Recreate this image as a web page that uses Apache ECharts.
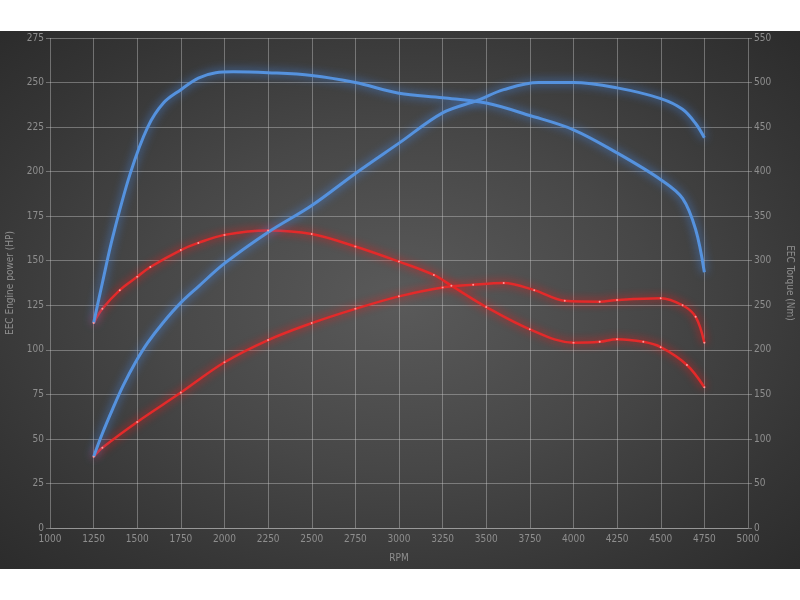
<!DOCTYPE html>
<html>
<head>
<meta charset="utf-8">
<script src="https://cdn.jsdelivr.net/npm/echarts@6/dist/echarts.min.js"></script>
<style>
html,body{margin:0;padding:0;background:#fff;}
#wrap{position:relative;width:800px;height:600px;}
#bg{position:absolute;left:0;top:31px;width:800px;height:538px;
background:radial-gradient(ellipse 70% 70% at 50% 50%, #5a5a5a 0%, #474747 45%, #353535 80%, #2c2c2c 100%);}
#chart{position:absolute;left:0;top:0;width:800px;height:600px;}
</style>
</head>
<body>
<div id="wrap"><div id="bg"></div><div id="chart"></div></div>
<script>
// X axis ticks (RPM)
const rpmTicks = [1000,1250,1500,1750,2000,2250,2500,2750,3000,3250,3500,3750,4000,4250,4500,4750,5000];

// Tuned torque (Nm, right axis) - blue
const tunedTorqueRpm = [1250,1300,1360,1460,1560,1650,1750,1850,1950,2050,2250,2500,2750,3000,3250,3500,3750,4000,4250,4500,4625,4700,4750];
const tunedTorqueNm  = [230,275,327,398,450,477,492,505,511,512,511,508,500,488,483,477,463,447,421,391,370,335,287];

// Tuned power (HP, left axis) - blue
const tunedPowerRpm = [1250,1300,1360,1420,1490,1560,1650,1750,1850,2000,2250,2500,2750,3000,3250,3450,3600,3800,4000,4250,4500,4625,4700,4750];
const tunedPowerHp  = [40,53,67,80,93,104,115.5,126.5,135.5,148.5,166,181,199,216,233,240,246,250,250,247,241,235,227,219];

// Stock torque (Nm, right axis) - red
const stockTorqueRpm = [1250,1300,1400,1500,1575,1750,1850,2000,2250,2500,2750,3000,3200,3300,3500,3750,4000,4150,4250,4400,4500,4650,4750];
const stockTorqueNm  = [230,246,267,282,293,312,320,329,334,330,316,299,284,272,248,223,208,209,212,209,203,183,158];

// Stock power (HP, left axis) - red
const stockPowerRpm = [1250,1300,1500,1750,2000,2250,2500,2750,3000,3250,3425,3600,3775,3950,4150,4250,4500,4625,4700,4750];
const stockPowerHp  = [40,45,59.5,76,93,105.5,115,123,130,135,136.5,137.5,133.5,127.5,127,128,129,125,118.5,104];

const pairs = (xs, ys) => xs.map((x, i) => [x, ys[i]]);

const gridColor = 'rgba(200,200,200,0.42)';
const labelColor = '#8e8e8e';
const fontFam = "'Liberation Sans Narrow','DejaVu Sans Condensed','Liberation Sans',sans-serif";
const plain = v => String(v);

const blueLine = {
  type: 'line', smooth: 0.35, showSymbol: false, symbol: 'none',
  lineStyle: { color: '#5592de', width: 3, shadowColor: 'rgba(70,140,240,0.95)', shadowBlur: 10 },
  itemStyle: { color: '#5592de' }
};
const redLine = {
  type: 'line', smooth: 0.35, showSymbol: true, symbol: 'circle', symbolSize: 2,
  lineStyle: { color: '#e32a2a', width: 2.5, shadowColor: 'rgba(255,20,20,0.95)', shadowBlur: 8 },
  itemStyle: { color: '#ff9a9a' }
};

const chart = echarts.init(document.getElementById('chart'), null, { renderer: 'canvas' });
chart.setOption({
  backgroundColor: 'transparent',
  animation: false,
  grid: { left: 50, right: 52, top: 38, bottom: 72, containLabel: false, outerBoundsMode: 'none' },
  xAxis: {
    type: 'value', min: rpmTicks[0], max: rpmTicks[rpmTicks.length - 1], interval: 250,
    name: 'RPM', nameLocation: 'middle', nameGap: 25,
    nameTextStyle: { color: labelColor, fontSize: 10, fontFamily: fontFam },
    axisLine: { show: true, lineStyle: { color: gridColor, width: 1 } },
    axisTick: { show: false },
    axisLabel: { color: labelColor, fontSize: 10, fontFamily: fontFam, margin: 6, formatter: plain },
    splitLine: { show: true, lineStyle: { color: gridColor, width: 1 } }
  },
  yAxis: [
    {
      type: 'value', min: 0, max: 275, interval: 25, position: 'left',
      name: 'EEC Engine power (HP)', nameLocation: 'middle', nameGap: 35, nameRotate: 90,
      nameTextStyle: { color: labelColor, fontSize: 10, fontFamily: fontFam },
      axisLine: { show: false },
      axisTick: { show: true, length: 4, lineStyle: { color: gridColor } },
      axisLabel: { color: labelColor, fontSize: 10, fontFamily: fontFam, margin: 6, formatter: plain },
      splitLine: { show: true, lineStyle: { color: gridColor, width: 1 } }
    },
    {
      type: 'value', min: 0, max: 550, interval: 50, position: 'right',
      name: 'EEC Torque (Nm)', nameLocation: 'middle', nameGap: 37, nameRotate: -90,
      nameTextStyle: { color: labelColor, fontSize: 10, fontFamily: fontFam },
      axisLine: { show: false },
      axisTick: { show: true, length: 4, lineStyle: { color: gridColor } },
      axisLabel: { color: labelColor, fontSize: 10, fontFamily: fontFam, margin: 6, formatter: plain },
      splitLine: { show: false }
    }
  ],
  series: [
    Object.assign({}, redLine, { name: 'Stock torque', yAxisIndex: 1, data: pairs(stockTorqueRpm, stockTorqueNm) }),
    Object.assign({}, redLine, { name: 'Stock power', yAxisIndex: 0, data: pairs(stockPowerRpm, stockPowerHp) }),
    Object.assign({}, blueLine, { name: 'Tuned torque', yAxisIndex: 1, data: pairs(tunedTorqueRpm, tunedTorqueNm) }),
    Object.assign({}, blueLine, { name: 'Tuned power', yAxisIndex: 0, data: pairs(tunedPowerRpm, tunedPowerHp) })
  ]
});
</script>
</body>
</html>
